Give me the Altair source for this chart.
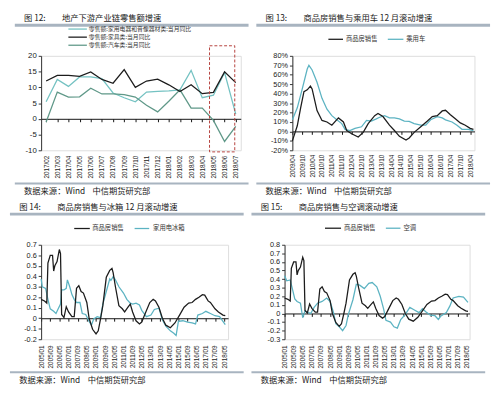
import altair as alt
import pandas as pd

CJK = "Noto Sans CJK SC"
NUM = "Liberation Sans"
BLACK = "#1c1c1c"
TEAL = "#5cb3c2"
P1_COLORS = ["#74c2c2", BLACK, "#5f9888"]
BAR = "#a8b4c0"
HL = "#b5403c"
FOOTER = "数据来源：Wind\u00a0\u00a0\u00a0\u00a0中信期货研究部"

BOX_W, BOX_H = 240, 187
TOP = 43
H = 97

# ---------------- Panel 1 data ----------------
p1_months = ["2017/02", "2017/03", "2017/04", "2017/05", "2017/06", "2017/07", "2017/08",
             "2017/09", "2017/10", "2017/11", "2017/12", "2018/01", "2018/02", "2018/03",
             "2018/04", "2018/05", "2018/06", "2018/07"]
p1_names = ["零售额:家用电器和音像器材类:当月同比", "零售额:家具类:当月同比", "零售额:汽车类:当月同比"]
p1_appliance = [5.4, 12.5, 10.3, 13.3, 13.3, 12.8, 8.2, 6.7, 5.4, 8.5, 8.7, 8.9, 9.2, 15.4, 6.7, 7.5, 14.7, 1.5]
p1_furniture = [12.0, 13.8, 13.8, 13.5, 14.9, 12.5, 11.3, 15.6, 10.0, 12.0, 12.6, 10.8, 8.7, 10.8, 8.0, 8.4, 14.9, 11.5]
p1_auto = [-1.0, 8.5, 6.9, 7.0, 9.7, 7.9, 7.9, 7.7, 6.9, 4.3, 2.2, 5.6, 9.2, 3.4, 3.4, -0.5, -7.2, -2.4]
p1_yticks = [-10, -5, 0, 5, 10, 15, 20]
hl_start, hl_end, hl_top, hl_bottom = "2018/05", "2018/07", 23.2, -10.5

# ---------------- Panel 2 data ----------------
p2_names = ["商品房销售", "乘用车"]
p2_house_dates = ["2009/04", "2009/07", "2009/09", "2009/11", "2010/01", "2010/03", "2010/04", "2010/07",
                  "2010/10", "2011/01", "2011/04", "2011/08", "2011/11", "2012/01", "2012/04", "2012/08",
                  "2012/11", "2013/02", "2013/06", "2013/08", "2013/11", "2014/03", "2014/06", "2014/09",
                  "2015/01", "2015/03", "2015/06", "2015/10", "2016/02", "2016/05", "2016/08", "2016/11",
                  "2017/01", "2017/04", "2017/07", "2017/10", "2018/01", "2018/04", "2018/06"]
p2_house = [-10, 6, 25, 42, 44, 48, 45, 22, 11.6, 10, 6.6, 14.3, 10, 1, -2.5, -5.9, -1, 8.3, 16.7, 19,
            15.7, 6.6, 1, -5.2, -9.2, -7, -1, 5, 11, 15.7, 16.7, 21.7, 22.4, 17.7, 13.3, 9, 6.6, 3.2, 2.2]
p2_car_dates = ["2009/04", "2009/07", "2009/10", "2010/01", "2010/02", "2010/04", "2010/07", "2010/10",
                "2011/01", "2011/04", "2011/07", "2011/10", "2011/12", "2012/03", "2012/06", "2012/10",
                "2013/01", "2013/04", "2013/07", "2013/09", "2013/12", "2014/03", "2014/06", "2014/09",
                "2014/12", "2015/03", "2015/06", "2015/10", "2016/01", "2016/04", "2016/08", "2016/11",
                "2017/01", "2017/05", "2017/08", "2017/11", "2018/03", "2018/06"]
p2_car = [12.3, 25, 45, 66, 70, 65, 52, 35, 23.5, 16.7, 12.3, 8.3, 2.2, 0.9, 3.2, 4.9, 11.6, 11, 13.3,
          15, 16.7, 14.3, 14.3, 13.3, 11, 10.6, 8.3, 6.6, 6.6, 12.3, 15.7, 14.3, 12.3, 10, 6.6, 2.2, 2.2, 0.9]
p2_ticks = ["2009/04", "2009/10", "2010/04", "2010/10", "2011/04", "2011/10", "2012/04", "2012/10",
            "2013/04", "2013/10", "2014/04", "2014/10", "2015/04", "2015/10", "2016/04", "2016/10",
            "2017/04", "2017/10", "2018/04"]
p2_yticks = [-20, -10, 0, 10, 20, 30, 40, 50, 60, 70, 80]

# ---------------- Panels 3 & 4 data ----------------
house_dates = ["2005/01", "2005/04", "2005/06", "2005/07", "2005/09", "2005/11", "2005/12", "2006/01",
               "2006/03", "2006/05", "2006/06", "2006/07", "2006/09", "2006/11", "2007/01", "2007/04",
               "2007/06", "2007/08", "2007/10", "2007/12", "2008/02", "2008/05", "2008/07", "2008/10",
               "2009/01", "2009/03", "2009/05", "2009/07", "2009/10", "2010/01", "2010/03", "2010/04",
               "2010/06", "2010/09", "2010/12", "2011/02", "2011/05", "2011/07", "2011/09", "2011/12",
               "2012/03", "2012/05", "2012/08", "2012/12", "2013/03", "2013/05", "2013/08", "2013/11",
               "2014/02", "2014/06", "2014/10", "2015/02", "2015/06", "2015/10", "2016/01", "2016/04",
               "2016/07", "2016/10", "2016/12", "2017/03", "2017/05", "2017/09", "2017/12", "2018/04",
               "2018/06"]
house = [0.18, 0.165, 0.145, 0.525, 0.60, 0.60, 0.45, 0.50, 0.54, 0.655, 0.615, 0.036, 0.006, 0.11,
         0.06, 0.015, 0.015, 0.285, 0.31, 0.255, 0.24, 0.15, 0.0, -0.105, -0.15, -0.12, -0.006, 0.12,
         0.39, 0.456, 0.474, 0.435, 0.30, 0.12, 0.09, 0.06, 0.105, 0.135, 0.06, -0.024, -0.054, -0.036,
         0.045, 0.15, 0.18, 0.165, 0.105, 0.0, -0.066, -0.09, -0.045, 0.03, 0.105, 0.144, 0.15, 0.18,
         0.20, 0.225, 0.22, 0.165, 0.15, 0.09, 0.06, 0.03, 0.024]
p3_names = ["商品房销售", "家用电冰箱"]
fridge_dates = ["2005/01", "2005/02", "2005/05", "2005/07", "2005/09", "2005/12", "2006/02", "2006/04",
                "2006/06", "2006/07", "2006/09", "2006/11", "2006/12", "2007/02", "2007/04", "2007/06",
                "2007/08", "2007/11", "2008/01", "2008/04", "2008/07", "2008/09", "2008/11", "2009/02",
                "2009/05", "2009/07", "2009/10", "2010/01", "2010/02", "2010/04", "2010/06", "2010/09",
                "2011/01", "2011/04", "2011/07", "2011/09", "2011/12", "2012/03", "2012/05", "2012/09",
                "2013/01", "2013/04", "2013/08", "2013/11", "2014/02", "2014/06", "2014/09", "2014/11",
                "2015/01", "2015/05", "2015/09", "2016/01", "2016/04", "2016/06", "2016/10", "2017/01",
                "2017/05", "2017/09", "2018/01", "2018/06"]
fridge = [0.375, 0.30, 0.285, 0.18, 0.09, 0.066, 0.045, 0.09, 0.135, 0.27, 0.27, 0.285, 0.366, 0.30,
          0.225, 0.18, 0.15, 0.15, 0.045, 0.036, -0.03, -0.066, -0.006, 0.015, 0.006, 0.135, 0.255,
          0.375, 0.36, 0.396, 0.366, 0.30, 0.24, 0.18, 0.144, 0.135, 0.144, 0.126, 0.075, 0.015, 0.03,
          0.084, 0.096, -0.015, -0.075, -0.12, -0.144, -0.165, -0.03, -0.024, -0.036, -0.045, -0.054,
          0.03, 0.045, 0.066, 0.045, 0.024, 0.015, -0.06]
p4_names = ["商品房销售", "空调"]
ac_dates = ["2005/01", "2005/03", "2005/06", "2005/08", "2005/10", "2005/12", "2006/03", "2006/05",
            "2006/07", "2006/10", "2006/12", "2007/03", "2007/06", "2007/10", "2008/02", "2008/05",
            "2008/08", "2008/10", "2009/01", "2009/04", "2009/07", "2009/09", "2010/01", "2010/04",
            "2010/07", "2010/11", "2011/03", "2011/06", "2011/10", "2012/01", "2012/04", "2012/06",
            "2012/10", "2013/01", "2013/04", "2013/07", "2013/11", "2014/03", "2014/07", "2014/11",
            "2015/02", "2015/05", "2015/09", "2016/01", "2016/04", "2016/06", "2016/11", "2017/02",
            "2017/05", "2017/10", "2018/02", "2018/06"]
ac = [0.44, 0.38, 0.39, 0.28, 0.17, 0.14, 0.12, -0.05, 0.03, 0.01, 0.0, 0.07, 0.12, 0.14, 0.18, 0.14,
      0.01, -0.12, -0.155, -0.2, -0.14, -0.01, 0.16, 0.34, 0.33, 0.29, 0.35, 0.36, 0.31, 0.2, 0.05,
      -0.08, -0.10, -0.155, -0.17, -0.07, -0.01, 0.07, 0.04, 0.01, 0.055, 0.02, -0.02, -0.026, -0.07,
      -0.033, 0.01, 0.085, 0.18, 0.2, 0.19, 0.13]
p34_ticks = ["2005/01", "2005/09", "2006/05", "2007/01", "2007/09", "2008/05", "2009/01", "2009/09",
             "2010/05", "2011/01", "2011/09", "2012/05", "2013/01", "2013/09", "2014/05", "2015/01",
             "2015/09", "2016/05", "2017/01", "2017/09", "2018/05"]
p3_yticks = [-0.2, -0.1, 0, 0.1, 0.2, 0.3, 0.4, 0.5, 0.6, 0.7]
p4_yticks = [-0.3, -0.2, -0.1, 0, 0.1, 0.2, 0.3, 0.4, 0.5, 0.6, 0.7, 0.8]

ONE = pd.DataFrame({"k": [0]})


def dt(s, day=1):
    return alt.DateTime(year=int(s[:4]), month=int(s[5:7]), date=day)


def series_df(dates, values):
    return pd.DataFrame({"date": pd.to_datetime(dates, format="%Y/%m"), "v": values})


def text(x, y, s, size, baseline="middle", font=CJK, color="#1a1a1a"):
    return alt.Chart(ONE).mark_text(text=s, align="left", baseline=baseline, font=font,
                                    fontSize=size, color=color).encode(x=alt.value(x), y=alt.value(y))


def rule(x0, x1, y, color, width):
    return alt.Chart(ONE).mark_rule(color=color, strokeWidth=width).encode(
        x=alt.value(x0), x2=alt.value(x1), y=alt.value(y))


def decorations(L, fig_no, title, legend, legend_size=6.5):
    lay = [
        rule(-L, BOX_W - L, -TOP + 11.5, BAR, 3),
        rule(-L, BOX_W - L, 131, BAR, 2),
        text(-L + 9.5, -TOP, fig_no, 8.5, baseline="top"),
        text(-L + 48.5, -TOP, title, 8.5, baseline="top"),
        text(-L + 9.5, BOX_H - TOP, FOOTER, 8.5, baseline="bottom"),
    ]
    for name, color, x0, x1, xt, y in legend:
        lay.append(rule(x0, x1, y, color, 1.3))
        lay.append(text(xt, y, name, legend_size, color="#333333"))
    return lay


def x_axis(offset, gap, **kw):
    return alt.Axis(title=None, labelAngle=270, labelFontSize=6.5, labelFont=NUM, labelColor="#222222",
                    offset=offset, labelPadding=-offset + gap - 3, tickSize=3, domainColor="#111111",
                    tickColor="#111111", labelOverlap=False, labelFlush=False, grid=False, **kw)


def y_axis(values, size, expr):
    return alt.Axis(title=None, values=values, labelFontSize=size, labelFont=NUM, labelColor="#222222",
                    tickSize=3, labelPadding=2, domainColor="#333333", tickColor="#333333",
                    labelExpr=expr, grid=False)


# ---------------- Panel 1 ----------------
W1, L1 = 205, 27
df1 = pd.DataFrame({"month": p1_months, "a": p1_appliance, "f": p1_furniture, "c": p1_auto})
off1 = -(H - H * 20 / 30)
x1 = alt.X("month:O", scale=alt.Scale(type="point", domain=p1_months, padding=0.45),
           axis=x_axis(off1, 5))
ys1 = alt.Scale(domain=[-10, 20], nice=False, zero=False)
ya1 = y_axis(p1_yticks, 8, "'' + datum.value")
p1_layers = []
for field, color in [("a", P1_COLORS[0]), ("c", P1_COLORS[2]), ("f", P1_COLORS[1])]:
    p1_layers.append(alt.Chart(df1).mark_line(color=color, strokeWidth=1.3).encode(
        x=x1, y=alt.Y(f"{field}:Q", scale=ys1, axis=ya1)))
hl_df = pd.DataFrame({"s": [hl_start], "e": [hl_end], "t": [hl_top], "b": [hl_bottom]})
p1_layers.append(alt.Chart(hl_df).mark_rect(fillOpacity=0, stroke=HL, strokeWidth=1, strokeDash=[3, 2],
                                            xOffset=-4, x2Offset=-1).encode(
    x=alt.X("s:O", scale=alt.Scale(type="point", domain=p1_months, padding=0.45), axis=x_axis(off1, 5)),
    x2="e:O", y=alt.Y("t:Q", scale=ys1, axis=ya1), y2="b:Q"))
p1_legend = [(p1_names[0], P1_COLORS[0], 28, 47, 49, -27.5),
             (p1_names[1], P1_COLORS[1], 28, 47, 49, -19.2),
             (p1_names[2], P1_COLORS[2], 28, 47, 49, -10.9)]
panel1 = alt.layer(*p1_layers, *decorations(L1, "图 12:", "地产下游产业链零售额增速", p1_legend, 6)).properties(
    width=W1, height=H)


def time_panel(L, W, start, end, ticks, ydom, yticks, size, expr, gap, series, fig_no, title, legend):
    off = -(H - H * ydom[1] / (ydom[1] - ydom[0]))
    xs = alt.Scale(domain=[dt(start), end])
    xa = x_axis(off, gap, values=[dt(t) for t in ticks], format="%Y/%m")
    ys = alt.Scale(domain=ydom, nice=False, zero=False)
    ya = y_axis(yticks, size, expr)
    layers = []
    for df, color in series:
        layers.append(alt.Chart(df).mark_line(color=color, strokeWidth=1.3).encode(
            x=alt.X("date:T", scale=xs, axis=xa), y=alt.Y("v:Q", scale=ys, axis=ya)))
    return alt.layer(*layers, *decorations(L, fig_no, title, legend)).properties(width=W, height=H)


panel2 = time_panel(
    37, 187, "2009/04", alt.DateTime(year=2018, month=6, date=20), p2_ticks, [-20, 80], p2_yticks, 7.5,
    "datum.value + '%'", 4,
    [(series_df(p2_car_dates, p2_car), TEAL), (series_df(p2_house_dates, p2_house), BLACK)],
    "图 13:", "商品房销售与乘用车 12 月滚动增速",
    [(p2_names[0], BLACK, 37, 52, 55, -17), (p2_names[1], TEAL, 98, 114, 117, -17)])

panel3 = time_panel(
    32, 192, "2005/01", alt.DateTime(year=2018, month=8, date=15), p34_ticks, [-0.2, 0.7], p3_yticks, 7.5,
    "'' + datum.value", 6,
    [(series_df(fridge_dates, fridge), TEAL), (series_df(house_dates, house), BLACK)],
    "图 14:", "商品房销售与冰箱 12 月滚动增速",
    [(p3_names[0], BLACK, 34, 50, 52.5, -16.7), (p3_names[1], TEAL, 96, 111, 115, -16.7)])

panel4 = time_panel(
    34, 190, "2005/01", alt.DateTime(year=2018, month=7, date=15), p34_ticks, [-0.3, 0.8], p4_yticks, 7.5,
    "'' + datum.value", 6,
    [(series_df(ac_dates, ac), TEAL), (series_df(house_dates, house), BLACK)],
    "图 15:", "商品房销售与空调滚动增速",
    [(p4_names[0], BLACK, 41.5, 58, 61, -17), (p4_names[1], TEAL, 104, 119, 122, -17)])

chart = alt.vconcat(
    alt.hconcat(panel1, panel2, spacing=4),
    alt.hconcat(panel3, panel4, spacing=4),
    spacing=6,
).properties(padding=0).configure_view(stroke=None).configure(background="white")

chart.save("out.html", embed_options={"renderer": "svg", "actions": False})
